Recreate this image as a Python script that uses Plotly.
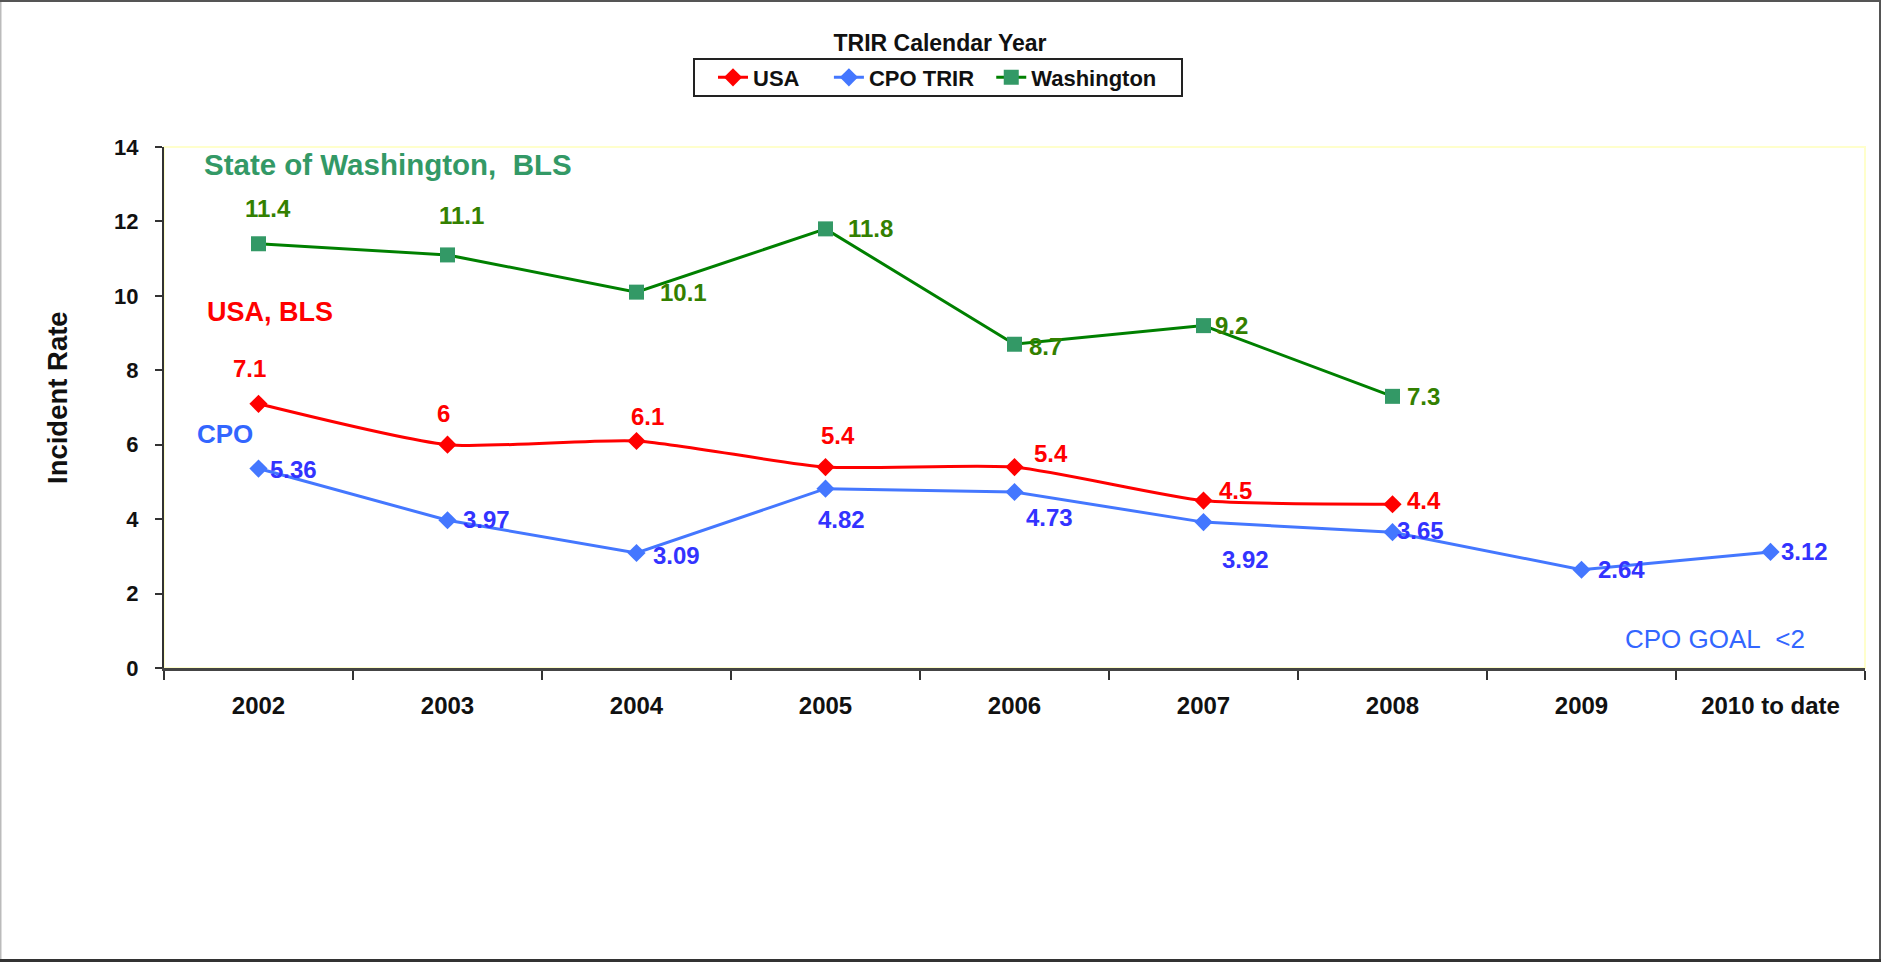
import plotly.graph_objects as go

categories = ["2002", "2003", "2004", "2005", "2006", "2007", "2008", "2009", "2010 to date"]
usa = [7.1, 6, 6.1, 5.4, 5.4, 4.5, 4.4, None, None]
cpo = [5.36, 3.97, 3.09, 4.82, 4.73, 3.92, 3.65, 2.64, 3.12]
washington = [11.4, 11.1, 10.1, 11.8, 8.7, 9.2, 7.3, None, None]
y_ticks = [0, 2, 4, 6, 8, 10, 12, 14]

# label offsets in screen px (dx right, dy down) - styling only
wa_off = [(9, -35), (14, -39), (47, 0), (45, 0), (31, 2), (28, 0), (31, 0)]
usa_off = [(-9, -35), (-4, -31), (11, -24), (12, -32), (36, -14), (32, -10), (31, -4)]
cpo_off = [(35, 1), (39, -1), (40, 2), (16, 31), (35, 26), (42, 37), (28, -2), (40, 0), (34, 0)]

W, H = 1881, 962
L, R, T, B = 164, 16, 147, 294
PW, PH = W - L - R, H - T - B

FONT = "Arial, Liberation Sans, sans-serif"
RED = "#FF0000"
BLUE_LINE = "#4477FF"
BLUE_LBL = "#3333FF"
GREEN_LINE = "#008000"
GREEN_MK = "#339966"
GREEN_LBL = "#338000"
NB = "\u00a0"


def px_x(p):
    return (p - L) / PW


def px_y(p):
    return (H - B - p) / PH


fig = go.Figure()
fig.add_trace(go.Scatter(
    x=categories, y=usa, name="USA" + NB * 4, mode="lines+markers",
    line=dict(color=RED, width=3, shape="spline", smoothing=0.6),
    marker=dict(symbol="diamond", size=14, color=RED),
))
fig.add_trace(go.Scatter(
    x=categories, y=cpo, name="CPO TRIR" + NB * 2, mode="lines+markers",
    line=dict(color=BLUE_LINE, width=3),
    marker=dict(symbol="diamond", size=14, color=BLUE_LINE),
))
fig.add_trace(go.Scatter(
    x=categories, y=washington, name="Washington", mode="lines+markers",
    line=dict(color=GREEN_LINE, width=3),
    marker=dict(symbol="square", size=15, color=GREEN_MK),
))

annotations = []


def add_labels(vals, offs, color):
    for i, (v, (dx, dy)) in enumerate(zip(vals, offs)):
        if v is None:
            continue
        annotations.append(dict(
            x=i, y=v, xref="x", yref="y", text=f"{v:g}", showarrow=False,
            xshift=dx, yshift=-dy, xanchor="center", yanchor="middle",
            font=dict(family=FONT, size=24, color=color, weight="bold"),
        ))


add_labels(washington, wa_off, GREEN_LBL)
add_labels(usa, usa_off, RED)
add_labels(cpo, cpo_off, BLUE_LBL)

annotations += [
    dict(xref="paper", yref="paper", x=px_x(202), y=px_y(165), xanchor="left", yanchor="middle",
         text="State of Washington," + NB + " BLS", showarrow=False,
         font=dict(family=FONT, size=29.5, color=GREEN_MK, weight="bold")),
    dict(xref="paper", yref="paper", x=px_x(205), y=px_y(312), xanchor="left", yanchor="middle",
         text="USA, BLS", showarrow=False,
         font=dict(family=FONT, size=27, color=RED, weight="bold")),
    dict(xref="paper", yref="paper", x=px_x(195), y=px_y(434), xanchor="left", yanchor="middle",
         text="CPO", showarrow=False,
         font=dict(family=FONT, size=26, color="#3366FF", weight="bold")),
    dict(xref="paper", yref="paper", x=px_x(1807), y=px_y(639), xanchor="right", yanchor="middle",
         text="CPO GOAL" + NB + " &lt;2", showarrow=False,
         font=dict(family=FONT, size=26, color="#3366FF")),
    dict(xref="paper", yref="paper", x=px_x(57), y=px_y(398), xanchor="center", yanchor="middle",
         text="Incident Rate", showarrow=False, textangle=-90,
         font=dict(family=FONT, size=27.5, color="#111111", weight="bold")),
]

shapes = [
    # faint yellow plot-area border
    dict(type="rect", xref="paper", yref="paper", x0=0, x1=1, y0=0, y1=1,
         line=dict(color="#FFFFCC", width=2), layer="below"),
    # legend box
    dict(type="rect", xref="paper", yref="paper", x0=px_x(694), x1=px_x(1182), y0=px_y(96), y1=px_y(59),
         line=dict(color="#222222", width=2), fillcolor="rgba(0,0,0,0)", layer="above"),
    # outer chart border
    dict(type="line", xref="paper", yref="paper", x0=px_x(0.5), x1=px_x(0.5), y0=px_y(0), y1=px_y(H),
         line=dict(color="#BBBBBB", width=2)),
    dict(type="line", xref="paper", yref="paper", x0=px_x(0), x1=px_x(W), y0=px_y(1), y1=px_y(1),
         line=dict(color="#555555", width=2)),
    dict(type="line", xref="paper", yref="paper", x0=px_x(W - 1), x1=px_x(W - 1), y0=px_y(0), y1=px_y(H),
         line=dict(color="#555555", width=2)),
    dict(type="line", xref="paper", yref="paper", x0=px_x(0), x1=px_x(W), y0=px_y(H - 1.5), y1=px_y(H - 1.5),
         line=dict(color="#333333", width=3)),
]

fig.update_layout(
    width=W, height=H,
    margin=dict(l=L, r=R, t=T, b=B, autoexpand=False),
    paper_bgcolor="white", plot_bgcolor="white",
    title=dict(text="TRIR Calendar Year", x=940 / W, xref="container", xanchor="center",
               y=1 - 43 / H, yref="container", yanchor="middle",
               font=dict(family=FONT, size=23, color="#111111", weight="bold")),
    showlegend=True,
    legend=dict(orientation="h", x=px_x(713), xanchor="left", y=px_y(77.5), yanchor="middle",
                borderwidth=0, bgcolor="rgba(0,0,0,0)",
                font=dict(family=FONT, size=22, color="#111111", weight="bold"),
                itemwidth=30, tracegroupgap=0),
    xaxis=dict(type="category", categoryorder="array", categoryarray=categories,
               range=[-0.5, len(categories) - 0.5],
               showline=True, linecolor="#444444", linewidth=3,
               ticks="outside", tickson="boundaries", ticklen=9, tickwidth=1.5, tickcolor="#333333",
               showgrid=False, zeroline=False, ticklabelstandoff=14,
               tickfont=dict(family=FONT, size=24, color="#111111", weight="bold")),
    yaxis=dict(range=[0, 14], tickvals=y_ticks, ticktext=[str(v) for v in y_ticks],
               showline=True, linecolor="#333333", linewidth=2,
               ticks="outside", ticklen=7, tickwidth=1.5, tickcolor="#333333",
               showgrid=False, zeroline=False, ticklabelstandoff=12,
               tickfont=dict(family=FONT, size=22, color="#111111", weight="bold")),
    annotations=annotations,
    shapes=shapes,
)

fig.write_html("out.html", config={"displayModeBar": False},
               post_script="document.body.style.margin='0';")
